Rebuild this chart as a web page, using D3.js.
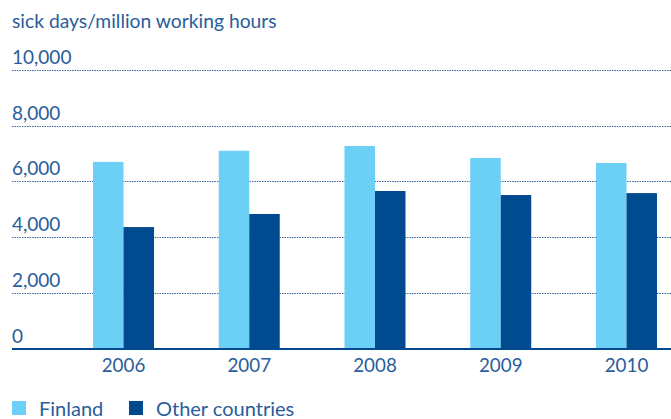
<!DOCTYPE html>
<html>
<head>
<meta charset="utf-8">
<script src="https://cdn.jsdelivr.net/npm/d3@7"></script>
<style>
  body { margin: 0; background: #fff; }
  text { font-family: Lato, "Open Sans", sans-serif; fill: #2a5d9a; }
</style>
</head>
<body>
<svg id="chart" width="671" height="419"></svg>
<script>
const years = ["2006", "2007", "2008", "2009", "2010"];
const seriesNames = ["Finland", "Other countries"];
const finland = [6700, 7100, 7270, 6840, 6660];
const otherCountries = [4360, 4830, 5655, 5510, 5580];
const yTicks = [0, 2000, 4000, 6000, 8000, 10000];
const colors = ["#6bcff6", "#004a8f"];
const title = "sick days/million working hours";

const svg = d3.select("#chart");
const left = 12, right = 671, y0 = 348.5, yTop = 70;

const y = d3.scaleLinear().domain([0, 10000]).range([y0, yTop]);
const x = d3.scaleBand().domain(years).range([93, 657]).paddingInner(0.515).paddingOuter(0);
const xs = d3.scaleBand().domain(seriesNames).range([0, x.bandwidth()]);

svg.append("text").attr("x", 12).attr("y", 28).attr("font-size", 19.3).text(title);

// gridlines
svg.append("g").selectAll("line").data(yTicks.filter(d => d > 0)).join("line")
  .attr("x1", left).attr("x2", right)
  .attr("y1", d => Math.round(y(d)) + 0.5).attr("y2", d => Math.round(y(d)) + 0.5)
  .attr("stroke", "#3a6aa6").attr("stroke-width", 1.2).attr("stroke-dasharray", "1.5,1");

// y labels
svg.append("g").selectAll("text").data(yTicks).join("text")
  .attr("x", 12).attr("y", d => y(d) - 6)
  .attr("font-size", 19)
  .text(d => d3.format(",")(d));

// bars
const data = years.map((yr, i) => ({ year: yr, vals: [finland[i], otherCountries[i]] }));
const g = svg.append("g").selectAll("g").data(data).join("g")
  .attr("transform", d => `translate(${x(d.year)},0)`);
g.selectAll("rect").data(d => d.vals.map((v, j) => ({ s: seriesNames[j], v, j }))).join("rect")
  .attr("x", d => xs(d.s)).attr("width", xs.bandwidth())
  .attr("y", d => y(d.v)).attr("height", d => y(0) - y(d.v))
  .attr("fill", d => colors[d.j]);

// baseline
svg.append("line").attr("x1", left).attr("x2", right).attr("y1", y0 + 0.5).attr("y2", y0 + 0.5)
  .attr("stroke", "#004a8f").attr("stroke-width", 2);

// x labels
svg.append("g").selectAll("text").data(years).join("text")
  .attr("x", d => x(d) + x.bandwidth() / 2).attr("y", 372)
  .attr("text-anchor", "middle").attr("font-size", 18.8)
  .text(d => d);

// legend
const legX = [12, 129];
const lg = svg.append("g").selectAll("g").data(seriesNames).join("g")
  .attr("transform", (d, i) => `translate(${legX[i]},401)`);
lg.append("rect").attr("width", 14).attr("height", 14).attr("fill", (d, i) => colors[i]);
lg.append("text").attr("x", 27).attr("y", 14.5).attr("font-size", 20).text(d => d);
</script>
</body>
</html>
